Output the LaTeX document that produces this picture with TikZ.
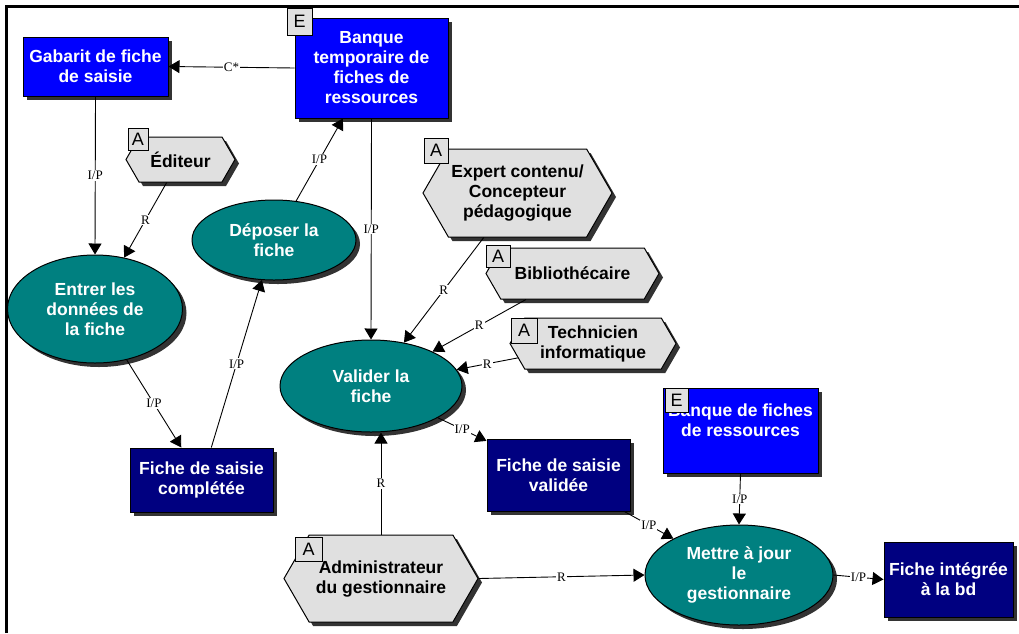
\documentclass[tikz,border=0pt]{standalone}
\usepackage{fontspec}
\setmainfont{Liberation Sans}
\newfontfamily\lblfont{Liberation Serif}
\usetikzlibrary{arrows.meta,shapes.geometric,shapes.symbols,shadows}
\definecolor{bleu}{RGB}{0,0,255}
\definecolor{marine}{RGB}{0,0,128}
\definecolor{sarcelle}{RGB}{0,128,128}
\definecolor{grisclair}{RGB}{224,224,224}

\begin{document}
\begin{tikzpicture}[x=1pt, y=-1pt,
    every node/.style = {align=center, font=\fontsize{17.5}{20}\selectfont\bfseries},
    ombre/.style = {drop shadow={shadow xshift=4pt, shadow yshift=-4pt, fill=black!80, opacity=1}},
    entite/.style = {rectangle, draw=black, line width=1pt, fill=bleu, text=white, ombre},
    produit/.style = {entite, fill=marine},
    activite/.style = {ellipse, draw=black, line width=1pt, fill=sarcelle, text=white, ombre, inner sep=0pt},
    acteur/.style = {signal, signal to=east and west, signal pointer angle=120, draw=black,
      line width=1pt, fill=grisclair, text=black, ombre, inner sep=0pt},
    etiq/.style = {rectangle, draw=black, line width=1pt, fill=grisclair, inner sep=0pt,
      font=\fontsize{18}{18}\selectfont},
    lien/.style = {draw, line width=0.9pt, -{Triangle[width=13pt,length=11pt]}},
    lbl/.style = {fill=white, inner sep=1pt, font=\lblfont\fontsize{13}{13}\selectfont}]
  \useasboundingbox (0,0) rectangle (1019,633);
  \draw[line width=2.5pt] (6.5,633) -- (6.5,6.5) -- (1019,6.5);

  % entites et produits
  \node[entite, minimum width=145pt, minimum height=59pt] (gabarit) at (95.5,66.5) {Gabarit de fiche\\de saisie};
  \node[entite, minimum width=153pt, minimum height=100pt] (btemp) at (371.5,68) {Banque\\temporaire de\\fiches de\\ressources};
  \node[produit, minimum width=143pt, minimum height=64pt] (fcomp) at (201.5,480) {Fiche de saisie\\complétée};
  \node[produit, minimum width=143pt, minimum height=72pt] (fval) at (558.5,475) {Fiche de saisie\\validée};
  \node[entite, minimum width=155pt, minimum height=85pt] (banque) at (740.5,430.5) {Banque de fiches\\de ressources\\\mbox{}};
  \node[produit, minimum width=129pt, minimum height=75pt] (fint) at (948.5,579.5) {Fiche intégrée\\à la bd};

  % activites
  \node[activite, minimum width=164pt, minimum height=80pt] (deposer) at (274,240) {Déposer la\\fiche};
  \node[activite, minimum width=175pt, minimum height=108pt] (entrer) at (95,309) {Entrer les\\données de\\la fiche};
  \node[activite, minimum width=182pt, minimum height=92pt] (valider) at (371,386) {Valider la\\fiche};
  \node[activite, minimum width=188pt, minimum height=100pt] (mettre) at (739,575) {Mettre à jour\\le\\gestionnaire};

  % acteurs
  \node[acteur, minimum width=109pt, minimum height=45pt] (editeur) at (180.5,159.5) {Éditeur};
  \node[acteur, minimum width=189pt, minimum height=88pt] (expert) at (517.5,193) {Expert contenu/\\Concepteur\\pédagogique};
  \node[acteur, minimum width=173pt, minimum height=51pt] (biblio) at (572.5,273.5) {Bibliothécaire};
  \node[acteur, minimum width=166pt, minimum height=51pt] (techn) at (593,343.5) {Technicien\\informatique};
  \node[acteur, minimum width=194pt, minimum height=87pt] (admin) at (381,578.5) {Administrateur\\du gestionnaire};

  % etiquettes
  \node[etiq, minimum width=25pt, minimum height=27pt] (tagbtemp) at (299.5,21.5) {E};
  \node[etiq, minimum width=20pt, minimum height=22pt] (tagedit) at (138,139) {A};
  \node[etiq, minimum width=24pt, minimum height=25pt] (tagexpert) at (436,150.5) {A};
  \node[etiq, minimum width=24pt, minimum height=22pt] (tagbiblio) at (498,256.5) {A};
  \node[etiq, minimum width=26pt, minimum height=25pt] (tagtechn) at (524,330.5) {A};
  \node[etiq, minimum width=23pt, minimum height=24pt] (tagbanque) at (676.5,400) {E};
  \node[etiq, minimum width=27pt, minimum height=24pt] (tagadmin) at (308.5,549) {A};

  % liens
  \draw[lien] (btemp.west) -- node[lbl]{C*} (gabarit.east);
  \draw[lien] (gabarit.south) -- node[lbl]{I/P} (entrer.north);
  \draw[lien] (editeur.239) -- node[lbl]{R} (entrer);
  \draw[lien] (entrer) -- node[lbl]{I/P} (fcomp);
  \draw[lien] (fcomp) -- node[lbl]{I/P} (deposer);
  \draw[lien] (deposer) -- node[lbl]{I/P} (btemp);
  \draw[lien] (btemp.south) -- node[lbl]{I/P} (valider.north);
  \draw[lien] (expert) -- node[lbl]{R} (valider);
  \draw[lien] (biblio) -- node[lbl]{R} (valider);
  \draw[lien] (techn) -- node[lbl]{R} (valider);
  \draw[lien] (valider) -- node[lbl]{I/P} (fval);
  \draw[lien] (admin.north) -- node[lbl]{R} (admin.north |- valider.south);
  \draw[lien] (admin.east) -- node[lbl]{R} (mettre.west);
  \draw[lien] (fval) -- node[lbl]{I/P} (mettre);
  \draw[lien] (banque.south) -- node[lbl]{I/P} (mettre.north);
  \draw[lien] (mettre.east) -- node[lbl]{I/P} (fint.west);
\end{tikzpicture}
\end{document}
